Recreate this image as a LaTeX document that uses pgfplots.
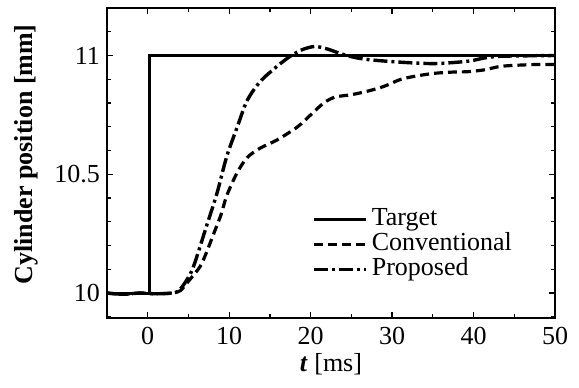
\documentclass[border=0pt]{standalone}
\usepackage{fontspec}
\setmainfont{Liberation Serif}
\usepackage{pgfplots}
\pgfplotsset{compat=1.18}
\begin{document}
\fontsize{13}{15}\selectfont
\begin{tikzpicture}
\path[use as bounding box] (-53.5pt,-34.5pt) rectangle (236pt,159pt);
\begin{axis}[
  anchor=south west, at={(0,0)},
  width=224pt, height=155pt, scale only axis,
  xmin=-5, xmax=50, ymin=9.895, ymax=11.2,
  xtick={0,10,20,30,40,50}, minor xtick={-5,5,15,25,35,45},
  ytick={10,10.5,11}, yticklabels={10,10.5,11},
  minor ytick={9.9,10.1,10.2,10.3,10.4,10.6,10.7,10.8,10.9,11.1,11.2},
  tick align=inside, major tick length=3pt, minor tick length=2pt,
  every tick/.style={black, line width=0.6pt},
  axis line style={line width=1pt},
  /pgf/number format/assume math mode=true,
  ticklabel style={font=\fontsize{13}{15}\selectfont},
  yticklabel style={xshift=1pt},
  xticklabel style={yshift=0pt},
  xlabel={\textbf{\textit{t}} [ms]},
  ylabel={\textbf{Cylinder position [mm]}},
  xlabel style={font=\fontsize{13}{15}\selectfont, at={(axis description cs:0.5,-0.15)}, anchor=center},
  ylabel style={font=\fontsize{13}{15}\selectfont, at={(axis description cs:-0.181,0.528)}, anchor=center},
  legend style={draw=none, fill=none, at={(102.5pt,55.5pt)}, anchor=north west,
    font=\fontsize{13}{15}\selectfont, row sep=0.5pt, column sep=2pt, inner sep=0pt,
    nodes={inner sep=0pt, text height=9pt, text depth=3pt}},
  legend cell align=left,
  legend image code/.code={\draw[#1] (0pt,0pt) -- (26pt,0pt);},
  clip=true,
]
\addplot[black, line width=1.5pt] coordinates {
(-5,10) (0.2,10) (0.2,11) (50,11)};
\addlegendentry{Target}
\addplot[black, line width=1.6pt, dash pattern=on 4.5pt off 2.5pt, smooth] coordinates {
(-5,10.0) (-3,9.995) (-1,10.0) (1,9.997) (3,10.0) (4,10.01) (5,10.05) (6.4,10.11) (7.2,10.17) (8.1,10.25) (9,10.33) (9.7,10.41) (10.95,10.505) (12.2,10.57) (13.8,10.61) (15.9,10.645) (18.4,10.70) (20,10.75) (21.6,10.80) (23,10.825) (25,10.835) (27,10.85) (29,10.87) (31.1,10.90) (33.2,10.915) (35.2,10.925) (37.3,10.93) (39.3,10.932) (41.4,10.94) (43.5,10.955) (47.5,10.962) (50,10.962)};
\addlegendentry{Conventional}
\addplot[black, line width=1.7pt, dash pattern=on 7pt off 2pt on 1.5pt off 2pt, smooth] coordinates {
(-5,10.0) (-3,9.995) (-1,10.0) (1,9.997) (3,10.0) (3.8,10.01) (4.7,10.05) (5.6,10.11) (7.2,10.28) (8.5,10.42) (9.7,10.575) (11,10.70) (12.2,10.81) (13.8,10.89) (15.9,10.955) (17.5,10.997) (19,11.025) (20.5,11.038) (22,11.028) (23.5,11.01) (25,10.995) (27,10.983) (31,10.972) (35.2,10.966) (39.3,10.976) (41.4,10.99) (43.5,10.997) (50,11.0)};
\addlegendentry{Proposed}
\end{axis}
\end{tikzpicture}
\end{document}
